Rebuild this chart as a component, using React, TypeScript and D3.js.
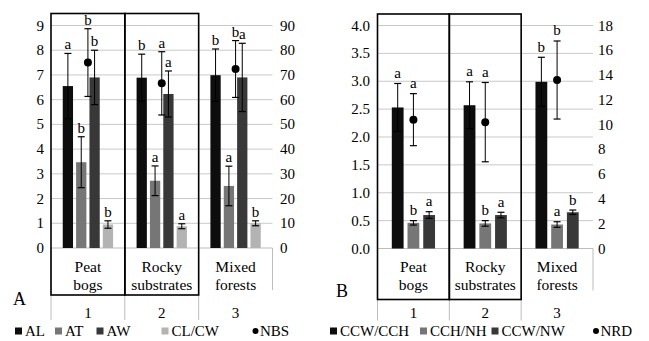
import * as d3 from "d3";

const FONT = "Liberation Serif, DejaVu Serif, Times New Roman, serif";

const categories = ["1", "2", "3"];
const habitatTop = ["Peat", "Rocky", "Mixed"];
const habitatBottom = ["bogs", "substrates", "forests"];

// Panel A — left axis (bars), right axis (NBS)
const leftTicksA = [0, 1, 2, 3, 4, 5, 6, 7, 8, 9];
const rightTicksA = [0, 10, 20, 30, 40, 50, 60, 70, 80, 90];
const seriesA = ["AL", "AT", "AW", "CL/CW"];
const colorsA = ["#0d0d0d", "#767676", "#383838", "#b3b3b3"];
const alMean = [6.55, 6.89, 6.99];
const alErr = [1.32, 0.95, 1.06];
const alLetters = ["a", "b", "b"];
const atMean = [3.47, 2.72, 2.51];
const atErr = [1.03, 0.6, 0.8];
const atLetters = ["b", "a", "a"];
const awMean = [6.9, 6.23, 6.9];
const awErr = [1.1, 0.93, 1.38];
const awLetters = ["b", "a", "a"];
const clMean = [0.95, 0.88, 1.0];
const clErr = [0.15, 0.1, 0.1];
const clLetters = ["b", "a", "b"];
const nbsMean = [75, 66.6, 72.4];
const nbsErr = [13.7, 12.8, 11.5];
const nbsLetters = ["b", "a", "b"];

// Panel B
const leftTicksB = [0, 0.5, 1, 1.5, 2, 2.5, 3, 3.5, 4];
const rightTicksB = [0, 2, 4, 6, 8, 10, 12, 14, 16, 18];
const seriesB = ["CCW/CCH", "CCH/NH", "CCW/NW"];
const colorsB = ["#0d0d0d", "#767676", "#383838"];
const ccwcchMean = [2.53, 2.57, 2.99];
const ccwcchErr = [0.43, 0.42, 0.44];
const ccwcchLetters = ["a", "a", "b"];
const cchnhMean = [0.46, 0.45, 0.43];
const cchnhErr = [0.04, 0.05, 0.05];
const cchnhLetters = ["b", "b", "a"];
const ccwnwMean = [0.6, 0.6, 0.65];
const ccwnwErr = [0.06, 0.05, 0.04];
const ccwnwLetters = ["a", "a", "b"];
const nrdMean = [10.4, 10.2, 13.6];
const nrdErr = [2.1, 3.2, 3.15];
const nrdLetters = ["a", "a", "b"];

type Bar = { name: string; color: string; mean: number[]; err: number[]; letters: string[] };
type Dot = { name: string; mean: number[]; err: number[]; letters: string[] };

type PanelProps = {
  x0: number;
  x1: number;
  yTop: number;
  yBottom: number;
  leftMax: number;
  rightMax: number;
  leftTicks: number[];
  rightTicks: number[];
  leftFmt: (v: number) => string;
  leftLabelX: number;
  rightLabelX: number;
  bars: Bar[];
  dot: Dot;
  pi: number;
  po: number;
  boxTop: number;
  boxBottom: number;
  letterGap: number;
  label: string;
  labelX: number;
  labelY: number;
  legendX: number[];
  legendDotX: number;
};

function Panel(p: PanelProps) {
  const x = d3.scaleBand<string>().domain(categories).range([p.x0, p.x1]).padding(0);
  const bw = x.bandwidth();
  const inner = d3
    .scaleBand<string>()
    .domain(p.bars.map((b) => b.name))
    .range([0, bw])
    .paddingInner(p.pi)
    .paddingOuter(p.po);
  const yL = d3.scaleLinear().domain([0, p.leftMax]).range([p.yBottom, p.yTop]);
  const yR = d3.scaleLinear().domain([0, p.rightMax]).range([p.yBottom, p.yTop]);
  const cap = 3.5;

  return (
    <g style={{ fontFamily: FONT }} fill="#000">
      {/* grid */}
      {p.leftTicks.map((t) => (
        <line key={"g" + t} x1={p.x0} x2={p.x1} y1={yL(t)} y2={yL(t)}
          stroke={t === 0 ? "#bdbdbd" : "#c9c9c9"} strokeWidth={1} />
      ))}
      {p.leftTicks.map((t) => (
        <text key={"l" + t} x={p.leftLabelX} y={yL(t)} dy="0.34em" textAnchor="end" fontSize={15}>
          {p.leftFmt(t)}
        </text>
      ))}
      {p.rightTicks.map((t) => (
        <text key={"r" + t} x={p.rightLabelX} y={yR(t)} dy="0.34em" textAnchor="start" fontSize={15}>
          {t}
        </text>
      ))}

      {/* category axis dividers */}
      {categories.map((c) => (
        <line key={"d" + c} x1={x(c)!} x2={x(c)!} y1={p.yBottom} y2={p.yBottom + 72}
          stroke="#bdbdbd" strokeWidth={1} />
      ))}
      <line x1={p.x1} x2={p.x1} y1={p.yBottom} y2={p.yBottom + 42} stroke="#bdbdbd" strokeWidth={1} />
      {categories.map((c, i) => (
        <g key={"c" + c}>
          <text x={x(c)! + bw / 2} y={272} textAnchor="middle" fontSize={15.5}>{habitatTop[i]}</text>
          <text x={x(c)! + bw / 2} y={290} textAnchor="middle" fontSize={15.5}>{habitatBottom[i]}</text>
          <text x={x(c)! + bw / 2} y={317.5} textAnchor="middle" fontSize={15}>{c}</text>
        </g>
      ))}

      {/* bars */}
      {p.bars.map((b) => (
        <g key={b.name}>
          {categories.map((c, i) => {
            const bx = x(c)! + inner(b.name)!;
            const cx = bx + inner.bandwidth() / 2;
            const top = yL(b.mean[i] + b.err[i]);
            const bot = yL(b.mean[i] - b.err[i]);
            return (
              <g key={c}>
                <rect x={bx} y={yL(b.mean[i])} width={inner.bandwidth()} height={p.yBottom - yL(b.mean[i])} fill={b.color} />
                <line x1={cx} x2={cx} y1={top} y2={bot} stroke="#000" strokeWidth={1} />
                <line x1={cx - cap} x2={cx + cap} y1={top} y2={top} stroke="#000" strokeWidth={1.2} />
                <line x1={cx - cap} x2={cx + cap} y1={bot} y2={bot} stroke="#000" strokeWidth={1.2} />
                <text x={cx} y={top - p.letterGap} textAnchor="middle" fontSize={15}>{b.letters[i]}</text>
              </g>
            );
          })}
        </g>
      ))}

      {/* dot series on right axis */}
      {categories.map((c, i) => {
        const cx = x(c)! + bw / 2;
        const top = yR(p.dot.mean[i] + p.dot.err[i]);
        const bot = yR(p.dot.mean[i] - p.dot.err[i]);
        return (
          <g key={"n" + c}>
            <line x1={cx} x2={cx} y1={top} y2={bot} stroke="#000" strokeWidth={1} />
            <line x1={cx - cap} x2={cx + cap} y1={top} y2={top} stroke="#000" strokeWidth={1.2} />
            <line x1={cx - cap} x2={cx + cap} y1={bot} y2={bot} stroke="#000" strokeWidth={1.2} />
            <circle cx={cx} cy={yR(p.dot.mean[i])} r={4} fill="#000" />
            <text x={cx} y={top - p.letterGap} textAnchor="middle" fontSize={15}>{p.dot.letters[i]}</text>
          </g>
        );
      })}

      {/* boxes around first two habitats */}
      {categories.slice(0, 2).map((c) => (
        <rect key={"b" + c} x={x(c)!} y={p.boxTop} width={bw} height={p.boxBottom - p.boxTop}
          fill="none" stroke="#000" strokeWidth={1.6} />
      ))}

      <text x={p.labelX} y={p.labelY} fontSize={18}>{p.label}</text>

      {/* legend */}
      {p.bars.map((b, i) => (
        <g key={"lg" + b.name}>
          <rect x={p.legendX[i]} y={327.5} width={7} height={7} fill={b.color} />
          <text x={p.legendX[i] + 10} y={336} fontSize={15}>{b.name}</text>
        </g>
      ))}
      <circle cx={p.legendDotX} cy={331} r={3} fill="#000" />
      <text x={p.legendDotX + 4.5} y={336} fontSize={15}>{p.dot.name}</text>
    </g>
  );
}

const barsA: Bar[] = [
  { name: seriesA[0], color: colorsA[0], mean: alMean, err: alErr, letters: alLetters },
  { name: seriesA[1], color: colorsA[1], mean: atMean, err: atErr, letters: atLetters },
  { name: seriesA[2], color: colorsA[2], mean: awMean, err: awErr, letters: awLetters },
  { name: seriesA[3], color: colorsA[3], mean: clMean, err: clErr, letters: clLetters },
];
const barsB: Bar[] = [
  { name: seriesB[0], color: colorsB[0], mean: ccwcchMean, err: ccwcchErr, letters: ccwcchLetters },
  { name: seriesB[1], color: colorsB[1], mean: cchnhMean, err: cchnhErr, letters: cchnhLetters },
  { name: seriesB[2], color: colorsB[2], mean: ccwnwMean, err: ccwnwErr, letters: ccwnwLetters },
];

export default function App() {
  return (
    <svg width={649} height={341} style={{ position: "absolute", left: 0, top: 0, background: "#fff" }}>
      <Panel
        x0={51} x1={272.5} yTop={25.5} yBottom={248}
        leftMax={9} rightMax={90}
        leftTicks={leftTicksA} rightTicks={rightTicksA}
        leftFmt={(v) => String(v)}
        leftLabelX={44} rightLabelX={280}
        bars={barsA}
        dot={{ name: "NBS", mean: nbsMean, err: nbsErr, letters: nbsLetters }}
        pi={0.23} po={0.88}
        boxTop={13.5} boxBottom={295}
        letterGap={4}
        label="A" labelX={13} labelY={305}
        legendX={[15, 55, 96.5, 161.5]} legendDotX={255.5}
      />
      <Panel
        x0={377.5} x1={593} yTop={25.5} yBottom={248.5}
        leftMax={4} rightMax={18}
        leftTicks={leftTicksB} rightTicks={rightTicksB}
        leftFmt={d3.format(".1f")}
        leftLabelX={370} rightLabelX={598}
        bars={barsB}
        dot={{ name: "NRD", mean: nrdMean, err: nrdErr, letters: nrdLetters }}
        pi={0.25} po={0.91}
        boxTop={14} boxBottom={299.5}
        letterGap={5.5}
        label="B" labelX={336} labelY={297}
        legendX={[330, 420, 491.5]} legendDotX={596}
      />
    </svg>
  );
}
